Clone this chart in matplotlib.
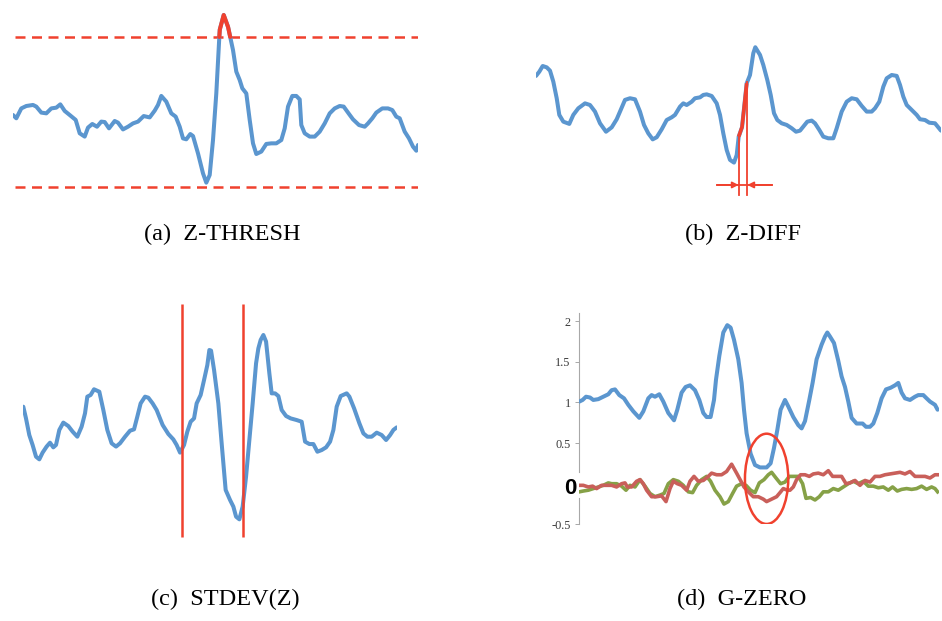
import numpy as np
import matplotlib
matplotlib.use("Agg")
import matplotlib.pyplot as plt
from matplotlib.patches import Ellipse

W, H = 942, 621

BLUE = "#5b96cf"
RED = "#f0412e"
D_RED = "#c95f5a"
D_GREEN = "#86a147"

# (a) Z-THRESH: time (samples) and amplitude (z units)
a_t = [0, 3.3, 8.3, 13.3, 20, 23.3, 28.3, 33.3, 38.3, 43.3, 47.3, 51.7, 56.7, 62.7,
       66.7, 71.7, 75, 79.3, 84, 88.3, 91.7, 96, 101.7, 105, 110, 115, 120, 125,
       130.7, 136.7, 141.7, 145, 148.3, 153.3, 158.3, 162.7, 166.7, 170, 173.3,
       177.3, 180, 185, 190, 193.3, 196.7, 200, 203.3, 206.7, 210.7, 215, 220,
       223.3, 226.7, 229.3, 233.3, 236.7, 240, 243.3, 248.3, 253.3, 258.3, 263.3,
       268.3, 271.7, 275, 279.3, 283.3, 286.7, 288.3, 291.7, 296.7, 301.7, 306.7,
       311.7, 316.7, 321.7, 326.7, 330.7, 336, 340, 346, 351.7, 355, 359.3, 363.3,
       369.3, 375, 379.3, 383.3, 386.7, 391.7, 396, 400, 403.3, 405]
a_v = [-0.2, -0.42, 0.24, 0.4, 0.47, 0.36, -0.04, -0.09, 0.24, 0.29, 0.51, 0.07,
       -0.2, -0.53, -1.42, -1.64, -1.04, -0.8, -0.98, -0.64, -0.67, -1.09, -0.6,
       -0.71, -1.16, -0.98, -0.76, -0.64, -0.27, -0.36, 0.09, 0.47, 1.07, 0.69,
       -0.09, -0.31, -0.98, -1.76, -1.82, -1.47, -1.6, -2.76, -4.09, -4.71, -4.2,
       -1.87, 1.24, 5.47, 6.47, 5.69, 4.13, 2.69, 2.13, 1.58, 1.24, -0.53, -2.09,
       -2.8, -2.64, -2.13, -2.09, -2.09, -1.87, -1.09, 0.36, 1.07, 1.07, 0.84,
       -0.87, -1.42, -1.64, -1.64, -1.31, -0.76, -0.09, 0.24, 0.4, 0.36, -0.13,
       -0.49, -0.87, -0.98, -0.76, -0.42, -0.04, 0.24, 0.24, 0.13, -0.31, -0.42,
       -1.31, -1.76, -2.31, -2.58, -2.2]
a_thresh = 5.0

# (b) Z-DIFF
b_t = [0, 3.3, 6.7, 10.7, 14, 17.3, 20.7, 23.3, 27.3, 33.3, 37.3, 42.3, 49, 54,
       59, 64, 70, 75.7, 80.7, 84, 89, 94, 99, 104, 108, 112.3, 116.7, 120.7,
       125.7, 130.7, 135.7, 139, 144, 147.3, 150.7, 155.7, 159, 164, 167.3, 170.7,
       175.7, 180.7, 184, 187.3, 190.7, 194, 198, 200.7, 202.7, 206, 210.7, 214,
       217.3, 219.3, 224, 227.3, 231.3, 234.7, 238, 241.3, 245.7, 250.7, 255.7,
       260, 264, 267.3, 271.3, 275.7, 279, 283.3, 287.3, 292.3, 297.3, 300.7,
       305.7, 310.7, 315.7, 320.7, 325.7, 330.7, 335.7, 339, 343.3, 347.3, 350.7,
       355.7, 360.7, 364, 367.3, 370.7, 375.7, 380.7, 384, 389, 393.3, 399, 402.3,
       405]
b_v = [3.16, 3.44, 3.82, 3.73, 3.51, 2.78, 1.67, 0.56, 0.11, -0.04, 0.56, 1.0,
       1.33, 1.22, 0.78, 0, -0.56, -0.27, 0.27, 0.78, 1.56, 1.67, 1.6, 0.78,
       -0.11, -0.67, -1.07, -0.93, -0.4, 0.22, 0.4, 0.56, 1.11, 1.33, 1.22, 1.44,
       1.67, 1.73, 1.89, 1.93, 1.82, 1.33, 0.56, -0.67, -1.78, -2.44, -2.62,
       -2.11, -0.89, -0.27, 2.67, 3.22, 4.67, 5.07, 4.56, 3.89, 2.89, 1.89, 0.67,
       0.22, 0, -0.11, -0.33, -0.56, -0.49, -0.22, 0.11, 0.18, 0, -0.44, -0.89,
       -1.0, -1.0, -0.33, 0.78, 1.44, 1.67, 1.6, 1.16, 0.78, 0.78, 1.0, 1.44,
       2.44, 3.0, 3.22, 3.16, 2.56, 1.78, 1.22, 0.89, 0.56, 0.27, 0.22, 0.04, 0,
       -0.27, -0.49]
b_marks = [202.7, 211.3]
b_arrow_ends = [181, 236]
b_arrow_v = -4.11
b_base_v = -4.78

# (c) STDEV(Z)
c_t = [0, 2.7, 6, 9.3, 12.7, 16, 19.3, 23.3, 26.7, 30, 32.7, 36, 40, 45, 49.3,
       54, 58.3, 61.7, 64, 67.3, 70.7, 76, 80, 84, 88.3, 92.7, 96.7, 101.7,
       106.7, 110.7, 114, 117.3, 121.7, 125, 129.3, 133.3, 139.3, 145, 150,
       153.3, 156.7, 160.7, 164, 167.3, 170.7, 173.3, 177.3, 180.7, 184, 186,
       187.7, 190.7, 195, 198.3, 202.3, 206.7, 210, 212.7, 216, 219.3, 222.7,
       226, 229.3, 232.7, 235, 237.3, 240, 242.7, 246, 248.3, 251.7, 255, 258.3,
       262.7, 267.3, 273.3, 278.3, 281.7, 286, 290, 294, 298.3, 302.7, 306.7,
       310, 313.3, 317.3, 323.3, 326, 330.7, 336, 340, 344, 348.3, 353.3, 358.3,
       362.7, 366.7, 370, 373.3]
c_v = [2.22, 1.44, 0.33, -0.33, -1.11, -1.29, -0.84, -0.44, -0.18, -0.49, -0.33,
       0.67, 1.16, 0.93, 0.56, 0.22, 0.89, 1.78, 2.89, 3.0, 3.38, 3.22, 2.0,
       0.67, -0.22, -0.44, -0.22, 0.22, 0.62, 0.71, 1.56, 2.44, 2.89, 2.82, 2.44,
       2.0, 1.0, 0.4, 0.04, -0.33, -0.84, -0.33, 0.56, 1.22, 1.44, 2.44, 3.0,
       4.0, 5.0, 6.0, 5.96, 4.67, 2.44, -0.22, -3.33, -4.0, -4.44, -5.11, -5.29,
       -4.44, -2.44, 0, 2.44, 5.11, 6.11, 6.67, 7.0, 6.56, 4.44, 3.11, 3.11,
       2.93, 2.0, 1.6, 1.44, 1.33, 1.22, -0.11, -0.27, -0.27, -0.78, -0.67,
       -0.49, -0.11, 0.67, 2.22, 2.93, 3.11, 2.89, 2.11, 1.11, 0.44, 0.22, 0.22,
       0.49, 0.33, 0, 0.33, 0.67, 0.84]
c_marks = [158.3, 219.3]

# (d) G-ZERO
d_blue_t = [0, 3.3, 6.7, 10.7, 14, 19, 24, 29, 32.3, 35.7, 40, 44.7, 49, 54, 60,
            64, 69, 72.3, 75.7, 80, 84, 89, 94.7, 98, 102.3, 106.3, 110.7, 115.7,
            120, 124, 127.3, 131.3, 134.7, 136.7, 140, 144, 148, 151.3, 154.7,
            159, 162.3, 164.7, 167.3, 171.3, 175.7, 180.7, 187.3, 191.3, 194.7,
            198, 201.3, 205.7, 209, 214, 219, 222.3, 225.7, 230, 233.3, 237.3,
            242.3, 245.7, 248, 250.7, 254.7, 259, 262.3, 265.7, 269, 272.3, 277.3,
            283.3, 286.7, 290.7, 294, 298, 302.3, 306.7, 311.3, 315.7, 319, 322.3,
            325.7, 330.7, 335.7, 339, 344, 347.3, 350.7, 355.7, 358.3]
d_blue_v = [1.01, 1.03, 1.07, 1.06, 1.03, 1.04, 1.07, 1.10, 1.15, 1.16, 1.09,
            1.05, 0.97, 0.89, 0.81, 0.89, 1.05, 1.09, 1.07, 1.10, 1.01, 0.87,
            0.78, 0.91, 1.12, 1.19, 1.21, 1.15, 1.03, 0.87, 0.82, 0.82, 1.03,
            1.28, 1.57, 1.86, 1.95, 1.92, 1.77, 1.53, 1.24, 0.91, 0.62, 0.37,
            0.23, 0.20, 0.20, 0.25, 0.44, 0.66, 0.91, 1.03, 0.95, 0.82, 0.72,
            0.68, 0.77, 1.03, 1.24, 1.53, 1.71, 1.81, 1.86, 1.81, 1.73, 1.51,
            1.32, 1.19, 1.01, 0.81, 0.74, 0.74, 0.70, 0.70, 0.74, 0.87, 1.05,
            1.16, 1.18, 1.21, 1.24, 1.12, 1.05, 1.03, 1.07, 1.09, 1.09, 1.05,
            1.01, 0.97, 0.91]

d_red_t = [0, 4, 9, 13.3, 17.3, 22.3, 27.3, 32.3, 37.3, 42.3, 45.7, 48, 52.3,
           57.3, 60.7, 64, 67.3, 72.3, 77.3, 82.3, 86.7, 90.7, 94, 98, 102.3,
           107.3, 110.7, 114.7, 119, 124, 129, 132.3, 137.3, 142.3, 147.3, 152.3,
           157.3, 161.7, 164.7, 169, 174, 179, 184, 187.3, 192.3, 197.3, 200.7,
           204, 208, 210.7, 214, 217.3, 221.3, 225.7, 230, 234, 239, 244, 249,
           253.3, 257.3, 262.3, 266.7, 270.7, 275.7, 280.7, 285.7, 290.7, 295.7,
           300.7, 305.7, 310.7, 315.7, 320.7, 325.7, 330.7, 335.7, 340.7, 345.7,
           350.7, 355.7, 358.3]
d_red_v = [-0.02, -0.02, -0.04, -0.03, -0.06, -0.02, -0.02, -0.02, -0.04, 0.0,
           0.01, -0.04, -0.04, 0.03, 0.05, 0.0, -0.08, -0.16, -0.16, -0.15,
           -0.22, -0.06, 0.03, 0.0, -0.02, -0.08, 0.03, 0.09, 0.03, 0.04, 0.09,
           0.13, 0.11, 0.11, 0.15, 0.24, 0.13, 0.03, -0.04, -0.10, -0.16, -0.16,
           -0.19, -0.22, -0.19, -0.16, -0.11, -0.06, -0.08, -0.08, -0.04, 0.05,
           0.11, 0.11, 0.09, 0.12, 0.13, 0.11, 0.16, 0.09, 0.09, 0.09, 0.0, 0.01,
           0.04, -0.02, 0.04, 0.02, 0.09, 0.09, 0.11, 0.12, 0.13, 0.14, 0.12,
           0.15, 0.09, 0.09, 0.09, 0.07, 0.11, 0.11]

d_green_t = [0, 4, 9, 14, 19, 24, 29, 32.3, 37.3, 42.3, 46.7, 50.7, 55.7, 60.7,
             65.7, 70.7, 75.7, 80.7, 84.7, 89, 94, 99, 104, 109, 113.3, 117.3,
             122.3, 127.3, 131.3, 135.7, 140.7, 144.7, 149, 153.3, 157.3, 162.3,
             166.7, 171.3, 175.7, 180, 184.7, 189, 192.3, 196.7, 201.3, 205.7,
             210, 214.7, 219, 223.3, 226.7, 231.3, 235.7, 240, 244, 249, 254,
             259, 264, 269, 274, 279, 284, 289, 294, 299, 304, 309, 313.3, 318,
             322.3, 327.3, 332.3, 337.3, 342.3, 347.3, 352.3, 355.7, 358.3]
d_green_v = [-0.10, -0.09, -0.08, -0.06, -0.04, -0.02, 0.01, 0.0, 0.0, -0.03,
             -0.08, -0.02, -0.04, 0.05, -0.03, -0.12, -0.16, -0.14, -0.12, 0.0,
             0.05, 0.03, -0.02, -0.10, -0.11, -0.02, 0.05, 0.09, 0.03, -0.08,
             -0.16, -0.25, -0.22, -0.12, -0.03, 0.0, -0.02, -0.08, -0.11, 0.01,
             0.05, 0.11, 0.14, 0.07, 0.0, 0.02, 0.09, 0.09, 0.09, 0.0, -0.18,
             -0.17, -0.20, -0.16, -0.10, -0.10, -0.06, -0.08, -0.04, 0.0, 0.03,
             0.0, 0.03, -0.03, -0.03, -0.05, -0.04, -0.08, -0.04, -0.09, -0.07,
             -0.06, -0.07, -0.06, -0.03, -0.07, -0.04, -0.06, -0.10]
d_ticks = [-0.5, 0.5, 1, 1.5, 2]
d_tick_labels = ["-0.5", "0.5", "1", "1.5", "2"]
d_circle = (187.3, 0.06, 43.3, 1.11)  # centre t, centre v, width, height

captions = ["(a)  Z-THRESH", "(b)  Z-DIFF", "(c)  STDEV(Z)", "(d)  G-ZERO"]


def px_axes(fig, x0, x1, y_top, y_bot):
    # axes placed by pixel box (y measured from the top of the image)
    ax = fig.add_axes([x0 / W, 1 - y_bot / H, (x1 - x0) / W, (y_bot - y_top) / H])
    ax.patch.set_alpha(0)
    return ax


def bare(ax):
    ax.set_xticks([])
    ax.set_yticks([])
    for s in ax.spines.values():
        s.set_visible(False)


def part(t, v, lo, hi, n=200):
    tt = np.linspace(lo, hi, n)
    return tt, np.interp(tt, t, v)


line_kw = dict(lw=2.9, solid_capstyle="round", solid_joinstyle="round")

fig = plt.figure(figsize=(W / 100, H / 100), dpi=100)

# ---- (a)
ax = px_axes(fig, 13, 418, 112 - 7 * 15, 112 + 6 * 15)
bare(ax)
ax.set_xlim(0, 405)
ax.set_ylim(-6, 7)
for y in (a_thresh, -a_thresh):
    ax.axhline(y, color=RED, lw=1.8, dashes=(4, 2.6), xmin=0.005, xmax=1)
ax.plot(a_t, a_v, color=BLUE, **line_kw)
tt, vv = part(a_t, a_v, a_t[0], a_t[-1], 8000)
m = vv >= a_thresh
ax.plot(tt[m], vv[m], color=RED, **line_kw)

# ---- (b)
ax = px_axes(fig, 536, 941, 123.3 - 6 * 15, 123.3 + 6 * 15)
bare(ax)
ax.set_xlim(0, 405)
ax.set_ylim(-6, 6)
ax.plot(b_t, b_v, color=BLUE, **line_kw)
tt, vv = part(b_t, b_v, b_marks[0], b_marks[1] - 0.6)
ax.plot(tt, vv, color=RED, lw=2.6, solid_capstyle="butt")
for tm in b_marks:
    ax.plot([tm, tm], [b_base_v, np.interp(tm, b_t, b_v)], color=RED, lw=1.3)
ax.plot(b_arrow_ends, [b_arrow_v, b_arrow_v], color=RED, lw=1.3)
for start, tm in zip(b_arrow_ends, b_marks):
    ax.annotate("", xy=(tm, b_arrow_v), xytext=(start, b_arrow_v),
                arrowprops=dict(arrowstyle="-|>", color=RED, lw=1.3,
                                mutation_scale=9, shrinkA=0, shrinkB=0))

# ---- (c)
ax = px_axes(fig, 23.3, 396.7, 440 - 10 * 15, 440 + 7 * 15)
bare(ax)
ax.set_xlim(0, 373.3)
ax.set_ylim(-7, 10)
ax.plot(c_t, c_v, color=BLUE, **line_kw)
ax.vlines(c_marks, -6.44, 9.07, color=RED, lw=1.8)

# ---- (d)
ax = px_axes(fig, 579.3, 939.3, 483.7 - 2.1 * 81.3, 483.7 + 0.5 * 81.3)
ax.set_xlim(0, 360)
ax.set_ylim(-0.5, 2.1)
for s in ax.spines.values():
    s.set_visible(False)
ax.set_xticks([])
ax.set_yticks(d_ticks)
ax.set_yticklabels(d_tick_labels, family="Liberation Serif")
ax.tick_params(axis="y", length=3, width=0.7, color="#a8a8a8",
               labelcolor="#3a3a3a", labelsize=8.8, pad=3.2)
for lo, hi in ((-0.5, -0.18), (0.15, 2.1)):
    ax.plot([0, 0], [lo, hi], color="#a8a8a8", lw=0.8, clip_on=False)
ax.plot(d_blue_t, d_blue_v, color=BLUE, **line_kw)
ax.plot(d_green_t, d_green_v, color=D_GREEN, lw=2.6, solid_joinstyle="round")
ax.plot(d_red_t, d_red_v, color=D_RED, lw=2.6, solid_joinstyle="round")
cx, cy, cw, ch = d_circle
ax.add_patch(Ellipse((cx, cy), cw, ch, fill=False, edgecolor=RED, lw=1.8, zorder=5))
fig.text(570 / W, 1 - 488 / H, "0", ha="center", va="center", fontsize=16,
         fontweight="bold", family="Liberation Sans", color="black")

# ---- captions
for (x, y), txt in zip([(222, 234), (743, 234), (225, 599), (742, 599)], captions):
    fig.text(x / W, 1 - y / H, txt, ha="center", va="center", fontsize=17.5,
             family="Liberation Serif", color="black")

fig.savefig("out.png", dpi=100)
